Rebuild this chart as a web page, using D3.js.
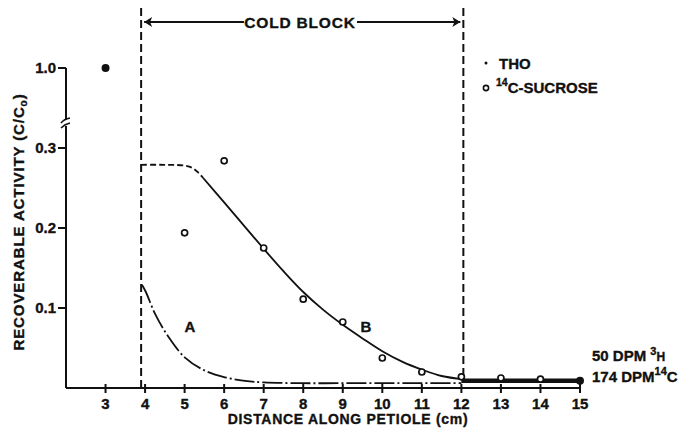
<!DOCTYPE html>
<html>
<head>
<meta charset="utf-8">
<script src="https://cdn.jsdelivr.net/npm/d3@7"></script>
<style>
  body { margin: 0; background: #fff; }
  svg text { font-family: "Liberation Sans", Arial, sans-serif; font-weight: bold; fill: #111; stroke: #111; stroke-width: 0.35; }
</style>
</head>
<body>
<svg id="chart" width="684" height="431"></svg>
<script>
// x ticks (cm along petiole)
var xTicks = [3, 4, 5, 6, 7, 8, 9, 10, 11, 12, 13, 14, 15];
var yTicks = [0.1, 0.2, 0.3];

// 14C-sucrose (open circles)
var sucroseX = [5, 6, 7, 8, 9, 10, 11, 12, 13, 14];
var sucroseY = [0.194, 0.284, 0.175, 0.111, 0.0825, 0.0375, 0.020, 0.014, 0.0125, 0.011];

// THO (filled points); the 1.0 point sits above the axis break
var thoX = [3, 15];
var thoY = [1.0, 0.009];
var thoBandX = [12, 13, 14, 15];
var thoBandY = [0.009, 0.009, 0.009, 0.009];

// curve B: dashed plateau then solid fit
var bDashX = [3.9, 4.5, 5.0, 5.2, 5.35, 5.47];
var bDashY = [0.279, 0.279, 0.278, 0.275, 0.269, 0.2625];
var bSolidX = [5.47, 6, 6.5, 7, 7.5, 8, 8.5, 9, 9.5, 10, 10.5, 11, 11.5, 12.05];
var bSolidY = [0.2625, 0.232, 0.203, 0.174, 0.146, 0.120, 0.098, 0.079, 0.062, 0.046, 0.033, 0.023, 0.015, 0.011];

// curve A: dash-dot decay
var aX = [3.92, 4.02, 4.25, 4.59, 5.01, 5.5, 6.02, 6.53, 7, 8, 9, 10, 11, 12];
var aY = [0.129, 0.120, 0.093, 0.064, 0.038, 0.022, 0.0134, 0.009, 0.007, 0.006, 0.006, 0.006, 0.006, 0.006];

var coldStart = 3.9, coldEnd = 12.05;

var svg = d3.select("#chart");

var x = d3.scaleLinear().domain([2, 15]).range([66, 580]);
var y = d3.scaleLinear().domain([0, 0.3]).range([388, 148]);
var yHigh = d3.scaleLinear().domain([0.9, 1.0]).range([100, 68]); // above the break

var line = d3.line().x(d => x(d[0])).y(d => y(d[1])).curve(d3.curveCatmullRom.alpha(0.5));
var zip = (a, b) => a.map((v, i) => [v, b[i]]);

// axes
var ink = "#111";
svg.append("line").attr("x1", 66).attr("x2", 580).attr("y1", y(0)).attr("y2", y(0))
  .attr("stroke", ink).attr("stroke-width", 2.2);
svg.append("line").attr("x1", 66).attr("x2", 66).attr("y1", yHigh(1.0)).attr("y2", y(0))
  .attr("stroke", ink).attr("stroke-width", 2);

// axis break
svg.append("rect").attr("x", 60).attr("y", 120).attr("width", 12).attr("height", 6).attr("fill", "#fff");
svg.append("path").attr("d", "M61,123 q3,-4 9,-5 M61,128 q4,-4 9,-5")
  .attr("stroke", ink).attr("stroke-width", 1.6).attr("fill", "none");

// y ticks
svg.selectAll(".ytick").data(yTicks).join("line")
  .attr("x1", 58).attr("x2", 66).attr("y1", d => y(d)).attr("y2", d => y(d))
  .attr("stroke", ink).attr("stroke-width", 2);
svg.selectAll(".ylab").data(yTicks).join("text")
  .attr("x", 56).attr("y", d => y(d) + 5).attr("text-anchor", "end").attr("font-size", 15)
  .text(d => d.toFixed(1));
svg.append("line").attr("x1", 58).attr("x2", 66).attr("y1", yHigh(1.0)).attr("y2", yHigh(1.0))
  .attr("stroke", ink).attr("stroke-width", 2);
svg.append("text").attr("x", 56).attr("y", yHigh(1.0) + 5).attr("text-anchor", "end")
  .attr("font-size", 15).text("1.0");

// x ticks
svg.selectAll(".xtick").data(xTicks).join("line")
  .attr("x1", d => x(d)).attr("x2", d => x(d)).attr("y1", y(0) - 4).attr("y2", y(0) + 5)
  .attr("stroke", ink).attr("stroke-width", 2);
svg.selectAll(".xlab").data(xTicks).join("text")
  .attr("x", d => x(d)).attr("y", 409).attr("text-anchor", "middle").attr("font-size", 15)
  .text(d => d);

// axis titles
svg.append("text").attr("x", 348).attr("y", 424).attr("text-anchor", "middle")
  .attr("font-size", 14).attr("letter-spacing", 0.7).text("DISTANCE ALONG PETIOLE (cm)");
var yl = svg.append("text").attr("transform", "translate(24,222) rotate(-90)")
  .attr("text-anchor", "middle").attr("font-size", 15).attr("letter-spacing", 0.9);
yl.append("tspan").text("RECOVERABLE ACTIVITY (C/C");
yl.append("tspan").attr("font-size", 10).attr("dy", 3).text("o");
yl.append("tspan").attr("dy", -3).text(")");

// cold block boundaries
[coldStart, coldEnd].forEach(function(v, i) {
  svg.append("line").attr("x1", x(v)).attr("x2", x(v))
    .attr("y1", 8).attr("y2", i == 0 ? y(0) : 376)
    .attr("stroke", ink).attr("stroke-width", 2).attr("stroke-dasharray", "8,4");
});

// cold block arrow
var ay = 22;
svg.append("line").attr("x1", x(coldStart) + 3).attr("x2", 244).attr("y1", ay).attr("y2", ay)
  .attr("stroke", ink).attr("stroke-width", 2);
svg.append("line").attr("x1", 357).attr("x2", x(coldEnd) - 3).attr("y1", ay).attr("y2", ay)
  .attr("stroke", ink).attr("stroke-width", 2);
svg.append("path").attr("d", "M" + (x(coldStart) + 3) + "," + ay + " l8,-5 l-2,5 l2,5 z").attr("fill", ink);
svg.append("path").attr("d", "M" + (x(coldEnd) - 3) + "," + ay + " l-8,-5 l2,5 l-2,5 z").attr("fill", ink);
svg.append("text").attr("x", 300).attr("y", ay + 6).attr("text-anchor", "middle")
  .attr("font-size", 15.5).attr("letter-spacing", 0.8).text("COLD BLOCK");

// curve A (dash-dot)
svg.append("path").datum(zip(aX, aY)).attr("d", line)
  .attr("fill", "none").attr("stroke", ink).attr("stroke-width", 1.8)
  .attr("stroke-dasharray", "20,3,2,3");

// curve B
svg.append("path").datum(zip(bDashX, bDashY)).attr("d", line)
  .attr("fill", "none").attr("stroke", ink).attr("stroke-width", 1.8)
  .attr("stroke-dasharray", "6,3");
svg.append("path").datum(zip(bSolidX, bSolidY)).attr("d", line)
  .attr("fill", "none").attr("stroke", ink).attr("stroke-width", 1.8);

// THO band past the block
svg.append("path").datum(zip(thoBandX, thoBandY)).attr("d", line)
  .attr("fill", "none").attr("stroke", ink).attr("stroke-width", 4.5);

// sucrose points
svg.selectAll(".suc").data(zip(sucroseX, sucroseY)).join("circle")
  .attr("cx", d => x(d[0])).attr("cy", d => y(d[1])).attr("r", 3)
  .attr("fill", "#fff").attr("stroke", ink).attr("stroke-width", 1.7);

// THO points
svg.selectAll(".tho").data(zip(thoX, thoY)).join("circle")
  .attr("cx", d => x(d[0])).attr("cy", d => d[1] > 0.3 ? yHigh(d[1]) : y(d[1])).attr("r", 4)
  .attr("fill", ink);

// curve labels
svg.append("text").attr("x", 190).attr("y", 332).attr("text-anchor", "middle").attr("font-size", 15).text("A");
svg.append("text").attr("x", 366).attr("y", 332).attr("text-anchor", "middle").attr("font-size", 15).text("B");

// legend
svg.append("circle").attr("cx", 486).attr("cy", 63).attr("r", 1.5).attr("fill", ink);
svg.append("text").attr("x", 499).attr("y", 69).attr("font-size", 15).text("THO");
svg.append("circle").attr("cx", 486).attr("cy", 88).attr("r", 2.6)
  .attr("fill", "#fff").attr("stroke", ink).attr("stroke-width", 1.6);
var lg = svg.append("text").attr("x", 496).attr("y", 93).attr("font-size", 15);
lg.append("tspan").attr("font-size", 10.5).attr("dy", -7).text("14");
lg.append("tspan").attr("dy", 7).text("C-SUCROSE");

// counts
var c1 = svg.append("text").attr("x", 592).attr("y", 361).attr("font-size", 15);
c1.append("tspan").text("50 DPM ");
c1.append("tspan").attr("font-size", 11).attr("dy", -6).text("3");
c1.append("tspan").attr("font-size", 12).attr("dy", 6).text("H");
var c2 = svg.append("text").attr("x", 592).attr("y", 382).attr("font-size", 15);
c2.append("tspan").text("174 DPM");
c2.append("tspan").attr("font-size", 11).attr("dy", -7).text("14");
c2.append("tspan").attr("dy", 7).text("C");
</script>
</body>
</html>
